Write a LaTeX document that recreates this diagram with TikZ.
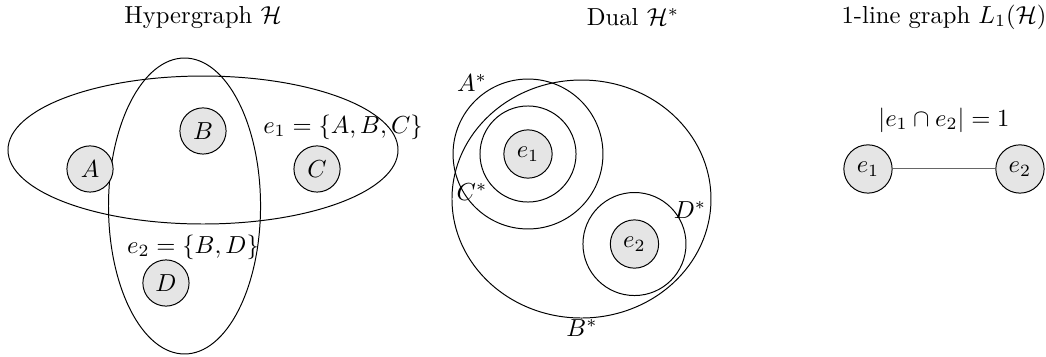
\documentclass[tikz,border=0pt]{standalone}
\usepackage{amsmath,amssymb}
\usetikzlibrary{positioning}

\begin{document}
\begin{tikzpicture}[
  vert/.style={circle, draw, fill=gray!20, minimum size=0.66cm, inner sep=0pt},
  evert/.style={circle, draw, fill=gray!20, minimum size=0.69cm, inner sep=0pt},
  lbl/.style={inner sep=1pt},
]
  \useasboundingbox (0,0) rectangle (14.943,-5.086);

  % hypergraph
  \node (t1) at (2.9,-0.243) {Hypergraph $\mathcal{H}$};
  \draw (2.9,-2.143) ellipse (2.786 and 1.057);
  \draw (2.636,-2.943) ellipse (1.086 and 2.114);
  \node[vert] (A) at (1.286,-2.414) {$A$};
  \node[vert] (B) at (2.9,-1.871) {$B$};
  \node[vert] (C) at (4.529,-2.414) {$C$};
  \node[vert] (D) at (2.371,-4.043) {$D$};
  \node[lbl] (l1) at (4.9,-1.814) {$e_1=\{A,B,C\}$};
  \node[lbl] (l2) at (2.757,-3.529) {$e_2=\{B,D\}$};

  % dual
  \node (t2) at (9.043,-0.243) {Dual $\mathcal{H}^*$};
  \draw (7.543,-2.2) circle (1.071);
  \draw (7.543,-2.2) circle (0.686);
  \draw (8.307,-2.843) ellipse (1.85 and 1.7);
  \draw (9.064,-3.486) circle (0.736);
  \node[evert] (d1) at (7.543,-2.2) {$e_1$};
  \node[evert] (d2) at (9.064,-3.486) {$e_2$};
  \node[lbl] (as) at (6.743,-1.186) {$A^*$};
  \node[lbl] (cs) at (6.743,-2.743) {$C^*$};
  \node[lbl] (ds) at (9.857,-3.0) {$D^*$};
  \node[lbl] (bs) at (8.314,-4.686) {$B^*$};

  % line graph
  \node (t3) at (13.486,-0.243) {1-line graph $L_1(\mathcal{H})$};
  \node[evert] (g1) at (12.4,-2.414) {$e_1$};
  \node[evert] (g2) at (14.571,-2.414) {$e_2$};
  \draw[gray!80!black] (g1) -- node[above=4mm, text=black] {$|e_1\cap e_2|=1$} (g2);
\end{tikzpicture}
\end{document}
